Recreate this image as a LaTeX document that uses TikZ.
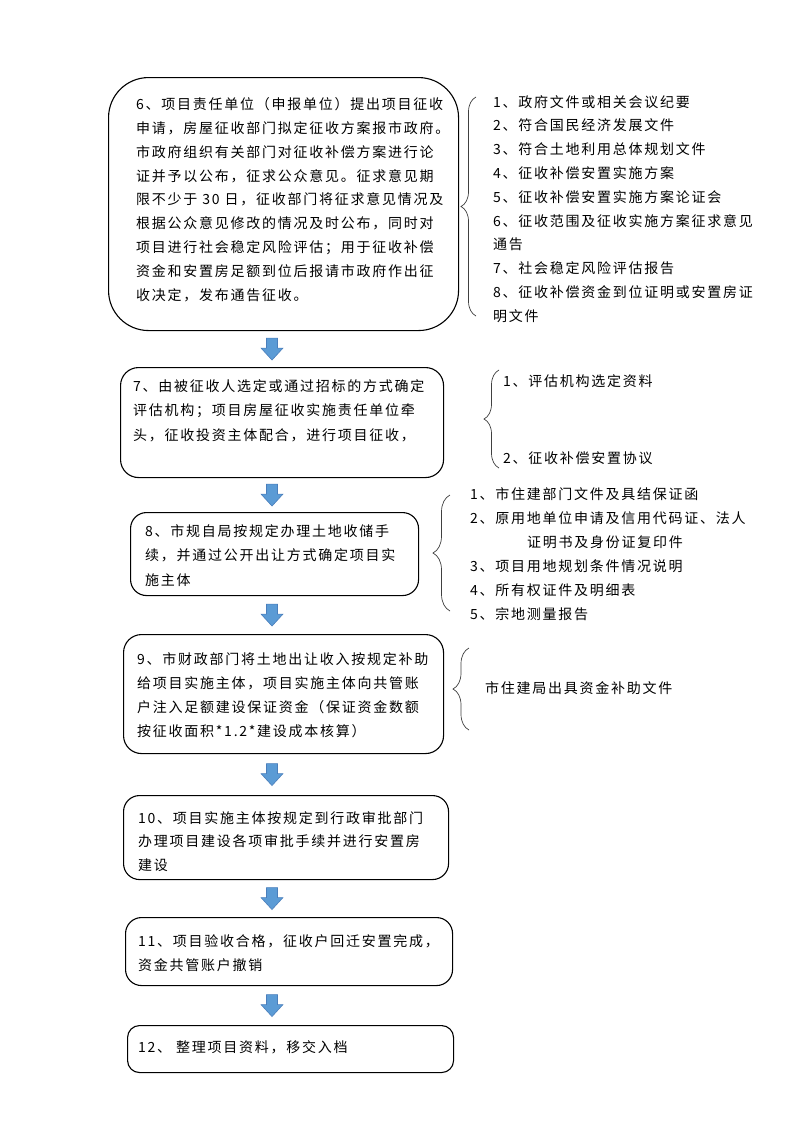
\documentclass[tikz,border=0pt]{standalone}
\usepackage{fontspec}
\setmainfont{Noto Sans CJK SC}[LetterSpace=12.5]
\usetikzlibrary{decorations.pathreplacing,calc}
\definecolor{arrblue}{HTML}{5B9BD5}
\definecolor{arrline}{HTML}{4A7EBB}
\begin{document}
\begin{tikzpicture}[x=1pt,y=-1pt,
  box/.style={draw=black, line width=1.1pt, inner sep=0pt, anchor=north west},
  txt/.style={anchor=north west, inner sep=0pt, align=left, text=black,
              font=\fontsize{14}{23.8}\selectfont},
  brc/.style={decorate, decoration={brace, amplitude=#1}, draw=black!75, line width=0.7pt},
  downarrow/.pic={\draw[fill=arrblue, draw=arrline, line width=0.6pt]
     (-5.5,-11) -- (5.5,-11) -- (5.5,-1) -- (11,-1) -- (0,11) -- (-11,-1) -- (-5.5,-1) -- cycle;}
]
\fill[white] (0,0) rectangle (793,1122);
\useasboundingbox (0,0) rectangle (793,1122);

% boxes
\node[box, rounded corners=40pt, minimum width=350pt, minimum height=253pt] (b6) at (108,77) {};
\node[box, rounded corners=18pt, minimum width=323pt, minimum height=110pt] (b7) at (120,367) {};
\node[box, rounded corners=16pt, minimum width=288pt, minimum height=83pt] (b8) at (130,512) {};
\node[box, rounded corners=18pt, minimum width=320pt, minimum height=119pt] (b9) at (123,634) {};
\node[box, rounded corners=16pt, minimum width=325pt, minimum height=84pt] (b10) at (123,795) {};
\node[box, rounded corners=16pt, minimum width=327pt, minimum height=68pt] (b11) at (125,917) {};
\node[box, rounded corners=12pt, minimum width=326pt, minimum height=47pt] (b12) at (127,1025) {};

% box texts
\node[txt] (t6) at (136,97.5) {6、项目责任单位（申报单位）提出项目征收\\
申请，房屋征收部门拟定征收方案报市政府。\\
市政府组织有关部门对征收补偿方案进行论\\
证并予以公布，征求公众意见。征求意见期\\
限不少于 30 日，征收部门将征求意见情况及\\
根据公众意见修改的情况及时公布，同时对\\
项目进行社会稳定风险评估；用于征收补偿\\
资金和安置房足额到位后报请市政府作出征\\
收决定，发布通告征收。};

\node[txt, font=\fontsize{14}{24.5}\selectfont] (t7) at (133,379) {7、由被征收人选定或通过招标的方式确定\\
评估机构；项目房屋征收实施责任单位牵\\
头，征收投资主体配合，进行项目征收，};

\node[txt, font=\fontsize{14}{24.5}\selectfont] (t8) at (145,524) {8、市规自局按规定办理土地收储手\\
续，并通过公开出让方式确定项目实\\
施主体};

\node[txt, font=\fontsize{14}{24}\selectfont] (t9) at (137,652) {9、市财政部门将土地出让收入按规定补助\\
给项目实施主体，项目实施主体向共管账\\
户注入足额建设保证资金（保证资金数额\\
按征收面积*1.2*建设成本核算）};

\node[txt, font=\fontsize{14}{23.5}\selectfont] (t10) at (138,811) {10、项目实施主体按规定到行政审批部门\\
办理项目建设各项审批手续并进行安置房\\
建设};

\node[txt, font=\fontsize{14}{24}\selectfont] (t11) at (138,934) {11、项目验收合格，征收户回迁安置完成，\\
资金共管账户撤销};

\node[txt] (t12) at (138,1040) {12、 整理项目资料，移交入档};

% right-hand lists
\node[txt, font=\fontsize{14}{23.8}\selectfont] (l6) at (493,95) {1、政府文件或相关会议纪要\\
2、符合国民经济发展文件\\
3、符合土地利用总体规划文件\\
4、征收补偿安置实施方案\\
5、征收补偿安置实施方案论证会\\
6、征收范围及征收实施方案征求意见\\
通告\\
7、社会稳定风险评估报告\\
8、征收补偿资金到位证明或安置房证\\
明文件};

\node[txt] (l7a) at (503,374) {1、评估机构选定资料};
\node[txt] (l7b) at (503,451) {2、征收补偿安置协议};

\node[txt, font=\fontsize{14}{24}\selectfont] (l8) at (470,487) {1、市住建部门文件及具结保证函\\
2、原用地单位申请及信用代码证、法人\\
\hspace*{57pt}证明书及身份证复印件\\
3、项目用地规划条件情况说明\\
4、所有权证件及明细表\\
5、宗地测量报告};

\node[txt] (l9) at (485,681) {市住建局出具资金补助文件};

% braces
\draw[brc=15pt] (476,316) -- (476,97);
\draw[brc=15pt] (499,468) -- (499,370);
\draw[brc=17pt] (450,611) -- (450,495);
\draw[brc=16pt] (469,730) -- (469,648);

% block arrows between boxes
\coordinate (ax) at (272,0);
\coordinate (m1) at ($(b6.south)!0.5!(b7.north)$);
\coordinate (m2) at ($(b7.south)!0.5!(b8.north)$);
\coordinate (m3) at ($(b8.south)!0.5!(b9.north)$);
\coordinate (m4) at ($(b9.south)!0.5!(b10.north)$);
\coordinate (m5) at ($(b10.south)!0.5!(b11.north)$);
\coordinate (m6) at ($(b11.south)!0.5!(b12.north)$);
\foreach \m in {m1,m2,m3,m4,m5,m6} {\pic at (\m -| ax) {downarrow};}
\end{tikzpicture}
\end{document}
